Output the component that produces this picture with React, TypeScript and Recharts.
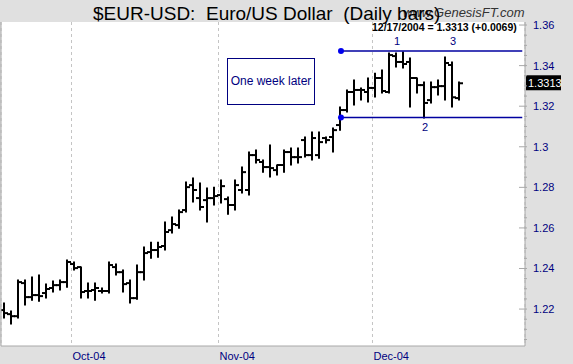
import { ComposedChart, Bar, XAxis, YAxis, CartesianGrid, ReferenceLine, ReferenceDot } from 'recharts';

const dates = [
  'Sep 17', 'Sep 20', 'Sep 21', 'Sep 22', 'Sep 23', 'Sep 24', 'Sep 27', 'Sep 28', 'Sep 29', 'Sep 30',
  'Oct 01', 'Oct 04', 'Oct 05', 'Oct 06', 'Oct 07', 'Oct 08', 'Oct 11', 'Oct 12', 'Oct 13', 'Oct 14',
  'Oct 15', 'Oct 18', 'Oct 19', 'Oct 20', 'Oct 21', 'Oct 22', 'Oct 25', 'Oct 26', 'Oct 27', 'Oct 28',
  'Oct 29', 'Nov 01', 'Nov 02', 'Nov 03', 'Nov 04', 'Nov 05', 'Nov 08', 'Nov 09', 'Nov 10', 'Nov 11',
  'Nov 12', 'Nov 15', 'Nov 16', 'Nov 17', 'Nov 18', 'Nov 19', 'Nov 22', 'Nov 23', 'Nov 24', 'Nov 25',
  'Nov 26', 'Nov 29', 'Nov 30', 'Dec 01', 'Dec 02', 'Dec 03', 'Dec 06', 'Dec 07', 'Dec 08', 'Dec 09',
  'Dec 10', 'Dec 13', 'Dec 14', 'Dec 15', 'Dec 16', 'Dec 17',
];

const opens = [
  1.2195, 1.2175, 1.2165, 1.2328, 1.2259, 1.2269, 1.2279, 1.2304, 1.2318, 1.2333,
  1.2422, 1.2407, 1.2289, 1.2294, 1.2289, 1.2289, 1.2407, 1.2382, 1.2328, 1.2254,
  1.2382, 1.2481, 1.2491, 1.2511, 1.2589, 1.2614, 1.2688, 1.2811, 1.2747, 1.2737,
  1.2747, 1.2762, 1.2742, 1.2713, 1.2787, 1.2787, 1.2959, 1.2925, 1.29, 1.2885,
  1.291, 1.2974, 1.2949, 1.3033, 1.2959, 1.2959, 1.3043, 1.3048, 1.3107, 1.3181,
  1.327, 1.328, 1.327, 1.329, 1.3339, 1.327, 1.3447, 1.3418, 1.3418, 1.3339,
  1.3304, 1.323, 1.3294, 1.3299, 1.3403, 1.324,
];
const highs = [
  1.223, 1.219, 1.2343, 1.2343, 1.2358, 1.2368, 1.2323, 1.2338, 1.2343, 1.2442,
  1.2432, 1.2407, 1.2328, 1.2328, 1.2304, 1.2432, 1.2422, 1.2392, 1.2343, 1.2417,
  1.2506, 1.253, 1.253, 1.2629, 1.2654, 1.2688, 1.2826, 1.2846, 1.2821, 1.2797,
  1.2801, 1.2836, 1.2752, 1.2836, 1.29, 1.2974, 1.2984, 1.2935, 1.3009, 1.291,
  1.2984, 1.2994, 1.2994, 1.3048, 1.3073, 1.3073, 1.3048, 1.3092, 1.3196, 1.328,
  1.3329, 1.329, 1.3339, 1.3363, 1.3378, 1.3462, 1.3462, 1.3467, 1.3438, 1.3339,
  1.3319, 1.3319, 1.3329, 1.3442, 1.3418, 1.3319,
];
const lows = [
  1.2156, 1.2126, 1.2156, 1.222, 1.2244, 1.2239, 1.2254, 1.2284, 1.2294, 1.2308,
  1.2392, 1.2254, 1.2254, 1.2244, 1.2279, 1.2279, 1.2368, 1.2284, 1.223, 1.2249,
  1.2343, 1.2451, 1.2456, 1.2491, 1.2575, 1.2599, 1.2678, 1.2728, 1.2688, 1.2629,
  1.2713, 1.2723, 1.2668, 1.2688, 1.2772, 1.2762, 1.292, 1.2875, 1.2851, 1.2861,
  1.2875, 1.291, 1.292, 1.2949, 1.2935, 1.2944, 1.3018, 1.2974, 1.3082, 1.3171,
  1.3206, 1.323, 1.3221, 1.3245, 1.3265, 1.3265, 1.3393, 1.3388, 1.3196, 1.3265,
  1.3142, 1.3216, 1.3255, 1.323, 1.3196, 1.323,
];
const closes = [
  1.218, 1.2165, 1.2333, 1.2259, 1.2269, 1.2264, 1.2299, 1.2318, 1.2333, 1.2432,
  1.2402, 1.2284, 1.2289, 1.2304, 1.2289, 1.2417, 1.2382, 1.2323, 1.2254, 1.2382,
  1.2476, 1.2491, 1.2506, 1.258, 1.2619, 1.2678, 1.2801, 1.2787, 1.2703, 1.2747,
  1.2757, 1.2806, 1.2713, 1.2811, 1.2875, 1.2959, 1.2935, 1.29, 1.2895, 1.291,
  1.2974, 1.2949, 1.2949, 1.2959, 1.3043, 1.3023, 1.3033, 1.3082, 1.3181, 1.327,
  1.328, 1.328, 1.329, 1.3339, 1.3275, 1.3452, 1.3418, 1.3408, 1.3339, 1.3304,
  1.3216, 1.3294, 1.3299, 1.3413, 1.3244, 1.3313,
];

// first trading day of each month shown on the axis
const monthStarts = [10, 31, 53];
const monthLabels = ['Oct-04', 'Nov-04', 'Dec-04'];
const priceLabels = [1.22, 1.24, 1.26, 1.28, 1.3, 1.32, 1.34, 1.36];

const resistance = 1.3472;
const support = 1.3144;
const channelStart = 48;
const swings = [
  { name: '1', i: 56, level: resistance, side: 'top' },
  { name: '3', i: 64, level: resistance, side: 'top' },
  { name: '2', i: 60, level: support, side: 'bottom' },
];

const data = dates.map((d, i) => ({
  i,
  date: d,
  open: opens[i],
  high: highs[i],
  low: lows[i],
  close: closes[i],
}));

const last = data[data.length - 1];
const prevClose = closes[closes.length - 2];
const change = last.close - prevClose;

const X_DOMAIN: [number, number] = [-0.571, 74.29];
const Y_DOMAIN: [number, number] = [1.2018, 1.3615];
const minorTicks = Array.from({ length: 32 }, (_, k) => Math.round((1.205 + k * 0.005) * 1000) / 1000);

const NAVY = '#000080';
const FONT = 'Arial, "Liberation Sans", sans-serif';

function OhlcBar(props: any) {
  const { x, y, width, height, payload } = props;
  if (x == null || y == null || height == null) return null;
  const cx = Math.round(x + width / 2);
  const top = Math.min(y, y + height);
  const bottom = Math.max(y, y + height);
  const span = payload.high - payload.low || 1;
  const yOpen = top + ((payload.high - payload.open) / span) * (bottom - top);
  const yClose = top + ((payload.high - payload.close) / span) * (bottom - top);
  return (
    <g stroke="#000" strokeWidth={2}>
      <line x1={cx} x2={cx} y1={top - 0.5} y2={bottom + 0.5} />
      <line x1={cx - 4} x2={cx} y1={yOpen} y2={yOpen} />
      <line x1={cx} x2={cx + 4} y1={yClose} y2={yClose} />
    </g>
  );
}

function PriceTick(props: any) {
  const { x, y, payload } = props;
  const major = priceLabels.some((p) => Math.abs(p - payload.value) < 1e-6);
  return (
    <g>
      <line x1={x - (major ? 8 : 3)} x2={x} y1={y} y2={y} stroke="#a8a8a8" />
      {major && (
        <text x={x + 6} y={y + 4} fill={NAVY} fontSize={11} fontFamily={FONT}>
          {String(payload.value)}
        </text>
      )}
    </g>
  );
}

function MonthTick(props: any) {
  const { x, y, index } = props;
  return (
    <text x={x + 1} y={y + 12} fill={NAVY} fontSize={11} fontFamily={FONT}>
      {monthLabels[index]}
    </text>
  );
}

function LastPriceTag(props: any) {
  const vb = props.viewBox;
  if (!vb) return null;
  const x = vb.x + vb.width + 1;
  return (
    <g>
      <rect x={x} y={vb.y - 8} width={35} height={15} fill="#000" />
      <text x={x + 2} y={vb.y + 3.5} fill="#fff" fontSize={11} fontFamily={FONT}>
        {last.close.toFixed(4)}
      </text>
    </g>
  );
}

export default function App() {
  return (
    <div
      style={{
        position: 'fixed',
        left: 0,
        top: 0,
        width: 573,
        height: 364,
        background: '#e0e0e0',
        overflow: 'hidden',
      }}
    >
      <ComposedChart
        width={573}
        height={364}
        data={data}
        margin={{ top: 22, right: 0, bottom: 0, left: 1 }}
        style={{ position: 'absolute', left: 0, top: 0 }}
      >
        <CartesianGrid
          fill="#ffffff"
          fillOpacity={1}
          horizontal={false}
          stroke="#c4c4c4"
          strokeDasharray="3 3"
        />
        <XAxis
          type="number"
          dataKey="i"
          domain={X_DOMAIN}
          allowDataOverflow
          ticks={monthStarts.map((m) => m - 0.5)}
          interval={0}
          tick={<MonthTick />}
          tickSize={0}
          tickLine={false}
          axisLine={{ stroke: '#a8a8a8' }}
          height={18}
        />
        <YAxis
          orientation="right"
          type="number"
          domain={Y_DOMAIN}
          allowDataOverflow
          ticks={minorTicks}
          interval={0}
          tick={<PriceTick />}
          tickSize={0}
          tickLine={false}
          axisLine={{ stroke: '#a8a8a8' }}
          width={48}
        />
        <ReferenceLine x={X_DOMAIN[0]} stroke="#a8a8a8" />
        <Bar
          dataKey={(d: any) => [d.low, d.high]}
          barSize={6}
          shape={<OhlcBar />}
          isAnimationActive={false}
        />
        <ReferenceLine
          segment={[
            { x: channelStart, y: resistance },
            { x: 73.9, y: resistance },
          ]}
          stroke="#0000a0"
          strokeWidth={1.5}
        />
        <ReferenceLine
          segment={[
            { x: channelStart, y: support },
            { x: 73.9, y: support },
          ]}
          stroke="#0000a0"
          strokeWidth={1.5}
        />
        <ReferenceDot x={channelStart} y={resistance} r={3} fill="#0000ee" stroke="none" />
        <ReferenceDot x={channelStart} y={support} r={3} fill="#0000ee" stroke="none" />
        {swings.map((s) => (
          <ReferenceDot
            key={s.name}
            x={s.i}
            y={s.level}
            r={0}
            stroke="none"
            label={{
              value: s.name,
              position: s.side as any,
              offset: 6,
              fill: NAVY,
              fontSize: 11,
              fontFamily: FONT,
            }}
          />
        ))}
        <ReferenceLine y={last.close} stroke="none" label={<LastPriceTag />} />
      </ComposedChart>

      <svg
        width={573}
        height={364}
        style={{ position: 'absolute', left: 0, top: 0, pointerEvents: 'none' }}
      >
        <text
          x={403}
          y={17}
          fill="#333"
          fontSize={13}
          fontStyle="italic"
          fontFamily={FONT}
        >
          www.GenesisFT.com
        </text>
        <text
          x={93}
          y={20}
          fill="#000"
          fontSize={19}
          fontFamily={FONT}
          xmlSpace="preserve"
          style={{ whiteSpace: 'pre' }}
        >
          {'$EUR-USD:  Euro/US Dollar  (Daily bars)'}
        </text>
        <text x={372} y={31} fill="#000" fontSize={10.5} fontWeight="bold" fontFamily={FONT}>
          {`12/17/2004 = ${last.close.toFixed(4)} (+${change.toFixed(4)})`}
        </text>
        <rect x={227.5} y={58.5} width={87} height={46} fill="none" stroke={NAVY} />
        <text x={271} y={85} fill={NAVY} fontSize={12} fontFamily={FONT} textAnchor="middle">
          One week later
        </text>
      </svg>
    </div>
  );
}
